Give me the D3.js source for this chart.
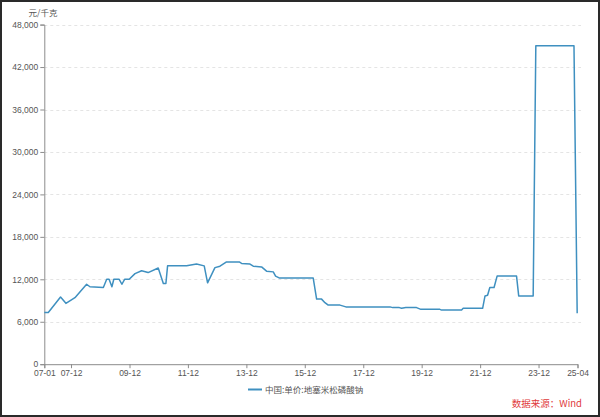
<!DOCTYPE html>
<html><head><meta charset="utf-8">
<script src="https://cdn.jsdelivr.net/npm/d3@7/dist/d3.min.js"></script>
<style>
html,body{margin:0;padding:0;background:#fff;}
svg{display:block;font-family:"Microsoft YaHei","Noto Sans CJK SC","Noto Sans",sans-serif;}
</style></head><body>
<svg id="c" width="600" height="417"></svg>
<script>
const dates = ["2007-01-01","2007-02-20","2007-07-23","2007-09-28","2008-01-19","2008-06-13","2008-07-24","2009-01-08","2009-02-19","2009-03-21","2009-04-25","2009-05-19","2009-07-25","2009-08-28","2009-10-01","2009-11-27","2010-02-08","2010-05-01","2010-07-22","2010-11-25","2011-01-28","2011-03-01","2011-03-22","2011-11-15","2012-03-18","2012-06-22","2012-08-03","2012-11-03","2013-01-05","2013-03-28","2013-09-03","2013-10-02","2014-01-15","2014-02-25","2014-06-09","2014-08-10","2014-11-02","2014-12-01","2015-01-15","2016-03-15","2016-04-27","2016-06-28","2016-08-09","2016-09-19","2017-02-13","2017-04-28","2018-11-01","2018-12-04","2019-02-25","2019-03-25","2019-05-17","2019-09-28","2019-11-21","2020-07-16","2020-08-06","2021-04-13","2021-05-03","2022-01-01","2022-01-31","2022-03-04","2022-04-01","2022-05-24","2022-07-01","2023-03-01","2023-03-28","2023-09-25","2023-10-28","2025-02-16","2025-03-28"];
const prices = [7300,7300,9500,8600,9400,11300,10950,10850,12000,12000,10950,12000,12000,11300,12000,12000,12800,13200,12950,13600,11400,11400,13900,13900,14150,13900,11500,13650,13850,14450,14450,14250,14150,13850,13750,13150,13050,12450,12200,12200,9200,9200,8700,8350,8350,8100,8100,8000,8000,7900,8000,8000,7750,7750,7650,7650,7900,7900,9650,9750,10850,10850,12450,12450,9650,9650,45000,45000,7200];
const yTicks = [0,6000,12000,18000,24000,30000,36000,42000,48000];
const xTickLabels = ["2007-01-01","2007-12-01","2009-12-01","2011-12-01","2013-12-01","2015-12-01","2017-12-01","2019-12-01","2021-12-01","2023-12-01","2025-04-01"];
const seriesName = "中国:单价:地塞米松磷酸钠";
const unitLabel = "元/千克";
const sourceLabel = "数据来源：Wind";

const parse = d3.timeParse("%Y-%m-%d");
const data = dates.map((d,i)=>({date:parse(d), value:prices[i]}));
const svg = d3.select("#c");
const L=44.3, R=577.5, T=24.6, B=364.2;
const x = d3.scaleTime().domain([parse("2007-01-01"),parse("2025-04-01")]).range([L,R]);
const y = d3.scaleLinear().domain([0,48000]).range([B,T]);
const lineColor = "#3f90c0";
const axisColor = "#8c8c8c";
const textColor = "#555";

// border
svg.append("rect").attr("x",1).attr("y",1).attr("width",598).attr("height",415)
  .attr("fill","#fff").attr("stroke","#2a2a2a").attr("stroke-width",2);

// grid
svg.append("g").selectAll("line").data(yTicks.filter(v=>v>0)).join("line")
  .attr("x1",L).attr("x2",581).attr("y1",d=>Math.round(y(d))+0.5).attr("y2",d=>Math.round(y(d))+0.5)
  .attr("stroke","#e4e4e4").attr("stroke-dasharray","3,3").attr("stroke-width",1);

// y axis
const yAxis = d3.axisLeft(y).tickValues(yTicks).tickFormat(d3.format(",")).tickSize(4).tickPadding(2);
const gy = svg.append("g").attr("transform",`translate(${L},0)`).call(yAxis);
gy.select(".domain").attr("stroke",axisColor);
gy.selectAll(".tick line").attr("stroke",axisColor);
gy.selectAll("text").attr("fill",textColor).attr("font-size","8.5px").style("font-family","inherit");

// x axis
const xAxis = d3.axisBottom(x).tickValues(xTickLabels.map(parse)).tickFormat(d3.timeFormat("%y-%m")).tickSize(4).tickPadding(2);
const gx = svg.append("g").attr("transform",`translate(0,${B})`).call(xAxis);
gx.select(".domain").attr("stroke",axisColor);
gx.selectAll(".tick line").attr("stroke",axisColor);
gx.selectAll("text").attr("fill",textColor).attr("font-size","8.5px").style("font-family","inherit");

// unit label
svg.append("text").attr("x",43).attr("y",16).attr("text-anchor","middle")
  .attr("font-size","8.5px").attr("fill",textColor).text(unitLabel);

// line
svg.append("path").datum(data)
  .attr("fill","none").attr("stroke",lineColor).attr("stroke-width",1.5).attr("stroke-linejoin","round")
  .attr("d",d3.line().x(d=>x(d.date)).y(d=>y(d.value)));

// legend
svg.append("line").attr("x1",248).attr("x2",262).attr("y1",389.5).attr("y2",389.5)
  .attr("stroke",lineColor).attr("stroke-width",2);
svg.append("text").attr("x",265).attr("y",392.5).attr("font-size","8.5px").attr("fill",textColor).text(seriesName);

// source
svg.append("text").attr("x",582).attr("y",407).attr("text-anchor","end")
  .attr("font-size","9.5px").attr("fill","#e0393b").text(sourceLabel);
</script>
</body></html>
